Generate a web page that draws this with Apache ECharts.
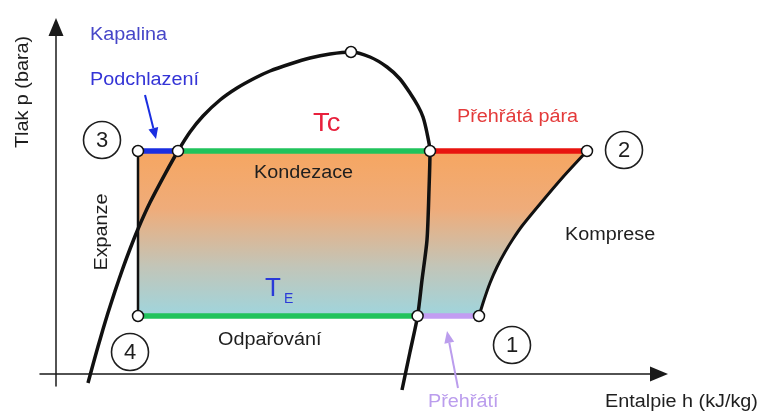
<!DOCTYPE html>
<html>
<head>
<meta charset="utf-8">
<script src="https://cdn.jsdelivr.net/npm/echarts@6/dist/echarts.min.js"></script>
<style>
  html, body { margin: 0; padding: 0; background: #ffffff; }
  #chart { width: 760px; height: 414px; }
</style>
</head>
<body>
<div id="chart"></div>
<script>
// Schematic p-h (pressure / enthalpy) diagram of a vapour-compression refrigeration cycle.
// Enthalpy in schematic units, pressure in bar; the axes carry no tick scale.

// Saturation dome: liquid line up to the critical point, then the vapour line down.
const saturationDome = [
  [16, -0.9], [18.5, 0.95], [21, 2.75], [23.5, 4.47], [26, 6.12], [29.5, 8.29], [33.5, 10.61],
  [37, 12.5], [41, 14.5], [47, 17.14], [54.5, 19.99], [61, 22.3], [67, 24.2], [73.5, 25.8],
  [82, 27.4], [90.5, 28.6], [99.5, 29.6], [107, 30.3], [117, 31.0], [127, 31.6], [137, 32.0],
  [147.5, 32.2],
  [157, 31.7], [165.5, 30.7], [172, 29.5], [177, 28.1], [181, 26.8], [183.5, 25.7],
  [185.5, 24.1], [187, 22.3], [186.5, 18.4], [185.5, 13.4], [183, 9.4], [180.8, 5.8],
  [177, 2.2], [173, -1.6]
];

// Compression path from state 1 up to state 2
const compression = [
  [211.5, 5.8], [214, 7.4], [217, 9.1], [220.5, 10.7], [224.5, 12.2], [228.5, 13.5],
  [233, 14.8], [242, 17.0], [253.5, 19.7], [265.5, 22.3]
];

// Pressure levels (bar)
const pCond = 22.3;   // condensing pressure
const pEvap = 5.8;    // evaporating pressure

// Enthalpies of the cycle points
const h3 = 41;          // state 3 (subcooled liquid) = state 4 (after expansion)
const hLiqCond = 61;    // saturated liquid at condensing pressure
const hVapCond = 187;   // saturated vapour at condensing pressure
const h2 = 265.5;       // state 2 (end of compression)
const hVapEvap = 180.8; // saturated vapour at evaporating pressure
const h1 = 211.5;       // state 1 (superheated suction vapour)

const criticalPoint = [147.5, 32.2];

// Closed outline of the cycle: 3 -> 2 -> (compression, reversed) -> 1 -> 4
const cycleOutline = [[h3, pCond]]
  .concat(compression.slice().reverse())
  .concat([[h3, pEvap]]);

const statePoints = [
  [h3, pCond], [hLiqCond, pCond], [hVapCond, pCond], [h2, pCond],
  [h3, pEvap], [hVapEvap, pEvap], [h1, pEvap], criticalPoint
];

const FONT = '"Liberation Sans", Arial, sans-serif';

function seg(data, color, width, z) {
  return {
    type: 'line', data: data, symbol: 'none', silent: true, clip: false, z: z,
    lineStyle: { color: color, width: width, cap: 'butt' }
  };
}

function label(text, x, y, color, opts) {
  opts = opts || {};
  return {
    type: 'text', x: x, y: y, silent: true, z: 100,
    scaleX: opts.scaleX || 1.1,
    rotation: opts.rotation || 0,
    style: {
      text: text, x: 0, y: 0, fill: color,
      font: (opts.size || 18) + 'px ' + FONT,
      fontSize: opts.size || 18, fontFamily: FONT,
      textAlign: opts.align || 'left', align: opts.align || 'left',
      textVerticalAlign: 'middle', verticalAlign: 'middle'
    }
  };
}

function circledNumber(n, cx, cy) {
  return [
    { type: 'circle', silent: true, z: 100, shape: { cx: cx, cy: cy, r: 18.5 },
      style: { fill: 'none', stroke: '#1e1e1e', lineWidth: 1.6 } },
    { type: 'text', silent: true, z: 101, x: cx, y: cy + 1,
      style: { text: String(n), x: 0, y: 0, fill: '#1e1e1e', font: '22px ' + FONT,
        fontSize: 22, fontFamily: FONT,
        textAlign: 'center', align: 'center', textVerticalAlign: 'middle', verticalAlign: 'middle' } }
  ];
}

function arrow(x1, y1, x2, y2, color, headLen, headHalf) {
  const dx = x2 - x1, dy = y2 - y1, len = Math.sqrt(dx * dx + dy * dy);
  const ux = dx / len, uy = dy / len;
  const bx = x2 - ux * headLen, by = y2 - uy * headLen;
  const px = -uy * headHalf, py = ux * headHalf;
  return [
    { type: 'line', silent: true, z: 100, shape: { x1: x1, y1: y1, x2: bx, y2: by },
      style: { stroke: color, lineWidth: 2 } },
    { type: 'polygon', silent: true, z: 100,
      shape: { points: [[x2, y2], [bx + px, by + py], [bx - px, by - py]] },
      style: { fill: color } }
  ];
}

const chart = echarts.init(document.getElementById('chart'), null, { renderer: 'canvas' });

const axisCommon = {
  type: 'value',
  axisTick: { show: false },
  axisLabel: { show: false },
  splitLine: { show: false }
};

const option = {
  animation: false,
  backgroundColor: '#ffffff',
  grid: { left: 40, right: 101, top: 27, bottom: 28 },
  xAxis: Object.assign({}, axisCommon, {
    min: -8, max: 301.5,
    axisLine: { show: true, onZero: true, symbol: ['none', 'triangle'], symbolSize: [15, 18],
      lineStyle: { color: '#1a1a1a', width: 1.5 } }
  }),
  yAxis: Object.assign({}, axisCommon, {
    min: -1.2, max: 34.7,
    axisLine: { show: true, onZero: true, symbol: ['none', 'triangle'], symbolSize: [15, 18],
      lineStyle: { color: '#1a1a1a', width: 1.5 } }
  }),
  series: [
    {
      type: 'custom', coordinateSystem: 'cartesian2d', silent: true, z: 1,
      data: [[0, 0]],
      renderItem: function (params, api) {
        const pts = cycleOutline.map(function (p) { return api.coord(p); });
        return {
          type: 'polygon',
          shape: { points: pts },
          style: {
            fill: new echarts.graphic.LinearGradient(0, 0, 0, 1, [
              { offset: 0, color: '#f6a661' },
              { offset: 0.35, color: '#efac7a' },
              { offset: 0.7, color: '#c2c5b8' },
              { offset: 1, color: '#9fd5dd' }
            ])
          }
        };
      }
    },
    Object.assign(seg(saturationDome, '#111111', 3.5, 5), { smooth: 0.25 }),
    Object.assign(seg(compression, '#111111', 3, 5), { smooth: 0.25 }),
    seg([[h3, pCond], [h3, pEvap]], '#111111', 2.5, 5),
    seg([[h3, pCond], [hLiqCond, pCond]], '#1a2ee0', 5.5, 6),
    seg([[hLiqCond, pCond], [hVapCond, pCond]], '#20c35c', 5.5, 6),
    seg([[hVapCond, pCond], [h2, pCond]], '#e8140f', 5.5, 6),
    seg([[h3, pEvap], [hVapEvap, pEvap]], '#20c35c', 5.5, 6),
    seg([[hVapEvap, pEvap], [h1, pEvap]], '#c29df2', 5.5, 6),
    {
      type: 'scatter', data: statePoints, silent: true, z: 10,
      symbol: 'circle', symbolSize: 11,
      itemStyle: { color: '#ffffff', borderColor: '#111111', borderWidth: 1.5, opacity: 1 }
    }
  ],
  graphic: {
    elements: [].concat(
      [
        label('Kapalina', 90, 35, '#4646c8'),
        label('Podchlazení', 90, 80, '#3434d6'),
        label('Tc', 313, 124, '#e8203c', { size: 26, scaleX: 1.05 }),
        label('Přehřátá pára', 457, 117, '#e43a3a'),
        label('Kondezace', 254, 173, '#1e1e1e'),
        label('Komprese', 565, 235, '#1e1e1e'),
        label('Expanze', 102, 232, '#1e1e1e', { align: 'center', rotation: Math.PI / 2 }),
        label('T', 265, 289, '#2a3ad8', { size: 26, scaleX: 1.0 }),
        label('E', 284, 299, '#2a3ad8', { size: 14, scaleX: 1.0 }),
        label('Odpařování', 218, 340, '#1e1e1e'),
        label('Přehřátí', 428, 402, '#bb9ded'),
        label('Entalpie h (kJ/kg)', 605, 402, '#1e1e1e'),
        label('Tlak p (bara)', 23, 92, '#1e1e1e', { align: 'center', rotation: Math.PI / 2 })
      ],
      circledNumber(3, 102, 140),
      circledNumber(2, 624, 150),
      circledNumber(4, 130, 352),
      circledNumber(1, 512, 345),
      arrow(145, 95, 156, 139, '#1a2ee0', 11, 5),
      arrow(458, 388, 447, 331, '#bb9ded', 12, 5)
    )
  }
};

chart.setOption(option);
</script>
</body>
</html>
